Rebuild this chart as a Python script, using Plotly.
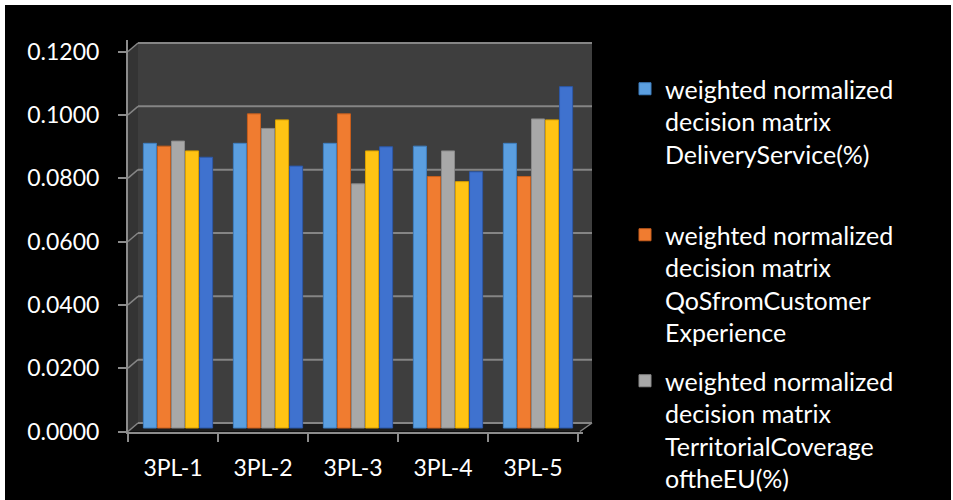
import plotly.graph_objects as go

# ---- data -------------------------------------------------------------
categories = ["3PL-1", "3PL-2", "3PL-3", "3PL-4", "3PL-5"]

series_names = [
    "weighted normalized<br>decision matrix<br>DeliveryService(%)",
    "weighted normalized<br>decision matrix<br>QoSfromCustomer<br>Experience",
    "weighted normalized<br>decision matrix<br>TerritorialCoverage<br>oftheEU(%)",
    "weighted normalized<br>decision matrix<br>Criterion 4",
    "weighted normalized<br>decision matrix<br>Criterion 5",
]

delivery_service = [0.0899, 0.0899, 0.0899, 0.0890, 0.0899]
qos_customer = [0.0890, 0.0992, 0.0992, 0.0794, 0.0794]
territorial_cov = [0.0906, 0.0946, 0.0771, 0.0875, 0.0976]
criterion_4 = [0.0875, 0.0973, 0.0875, 0.0778, 0.0973]
criterion_5 = [0.0855, 0.0827, 0.0888, 0.0809, 0.1078]

values = [delivery_service, qos_customer, territorial_cov, criterion_4, criterion_5]
colors = ["#5B9FE0", "#F07C30", "#A8A8A8", "#FFC414", "#3F72CF"]
edge_colors = ["#3F7FC0", "#C85E1C", "#8A8A8A", "#D9A000", "#2C58A8"]
legend_ids = ["legend", "legend2", "legend3", None, None]

y_ticks = [0.0, 0.02, 0.04, 0.06, 0.08, 0.10, 0.12]
y_tick_text = ["0.0000", "0.0200", "0.0400", "0.0600", "0.0800", "0.1000", "0.1200"]

# ---- layout geometry (pixels) -----------------------------------------
W, H = 953, 500
L, R, T, B = 128, 583, 40, 432          # front plotting frame
PPU = 380 / 0.12                        # pixels per value unit
BAR_BASE = 428                          # bars stand a little behind the front edge
FRONT_ZERO = 431.5
DX, DY = 10, 8.5                        # depth offset of the back wall


def px(xp):
    return (xp - L) / (R - L)


def py(yp):
    return (B - yp) / (B - T)


FONT = "Lato"

fig = go.Figure()
for name, vals, col, edge, leg in zip(series_names, values, colors,
                                      edge_colors, legend_ids):
    fig.add_trace(go.Bar(
        x=categories, y=vals, name=name, marker_color=col,
        marker_line=dict(color=edge, width=1),
        showlegend=leg is not None, legend=leg or "legend",
        xaxis="x", yaxis="y",
    ))

# empty trace so the front (label) axes get their own subplot
fig.add_trace(go.Scatter(x=[], y=[], xaxis="x2", yaxis="y2",
                         showlegend=False, hoverinfo="skip"))

shapes = []
# black card with a thin white frame around it
shapes.append(dict(type="rect", xref="paper", yref="paper", layer="below",
                   x0=px(5), x1=px(951), y0=py(5), y1=py(H + 2),
                   fillcolor="black", line_width=0))
# back wall
back_top = FRONT_ZERO - DY - 0.12 * PPU
back_bot = FRONT_ZERO - DY
shapes.append(dict(type="rect", xref="paper", yref="paper", layer="below",
                   x0=px(L + DX), x1=px(592), y0=py(back_bot), y1=py(back_top),
                   fillcolor="#3E3E3E", line_width=0))
# left side wall
shapes.append(dict(type="path", xref="paper", yref="paper", layer="below",
                   path=(f"M{px(L)},{py(FRONT_ZERO - 0.12 * PPU)} "
                         f"L{px(L + DX)},{py(back_top)} L{px(L + DX)},{py(back_bot)} "
                         f"L{px(L)},{py(FRONT_ZERO)} Z"),
                   fillcolor="#343434", line_width=0))
# floor
shapes.append(dict(type="path", xref="paper", yref="paper", layer="below",
                   path=(f"M{px(L)},{py(FRONT_ZERO)} L{px(L + DX)},{py(back_bot)} "
                         f"L{px(592)},{py(back_bot)} L{px(580)},{py(FRONT_ZERO)} Z"),
                   fillcolor="#1C1C1C", line_width=0))
# gridlines on the back wall and their slanted continuation on the side wall
up_back = BAR_BASE - (FRONT_ZERO - DY)
down_front = FRONT_ZERO - BAR_BASE
for v in y_ticks:
    shapes.append(dict(type="line", xref="paper", yref="y", layer="below",
                       ysizemode="pixel", yanchor=v, y0=up_back, y1=up_back,
                       x0=px(L + DX), x1=px(592),
                       line=dict(color="#858585", width=2)))
    shapes.append(dict(type="line", xref="paper", yref="y", layer="below",
                       ysizemode="pixel", yanchor=v, y0=-down_front, y1=up_back,
                       x0=px(L), x1=px(L + DX),
                       line=dict(color="#858585", width=1.5)))
# floor edge toward the back right corner
shapes.append(dict(type="line", xref="paper", yref="paper", layer="below",
                   x0=px(580), y0=py(FRONT_ZERO), x1=px(592), y1=py(back_bot),
                   line=dict(color="#858585", width=1.5)))

# value ranges so that the bar axis and the front label axis line up
y_range = [-(B - BAR_BASE) / PPU, (BAR_BASE - T) / PPU]
y2_range = [-(B - FRONT_ZERO) / PPU, (FRONT_ZERO - T) / PPU]
x_range = [-50 / 90, -50 / 90 + (R - L) / 90]
x2_range = [-45 / 90, -45 / 90 + (R - L) / 90]


def legend_box(top_px):
    return dict(x=px(625), y=py(top_px), xanchor="left", yanchor="top",
                bgcolor="rgba(0,0,0,0)", borderwidth=0,
                font=dict(family=FONT, color="white", size=25),
                valign="top")


fig.update_layout(
    width=W, height=H,
    margin=dict(l=L, r=W - R, t=T, b=H - B, pad=0, autoexpand=False),
    paper_bgcolor="white",
    plot_bgcolor="rgba(0,0,0,0)",
    font=dict(family=FONT, color="white", size=23),
    barmode="group", bargap=0.22, bargroupgap=0.07,
    shapes=shapes,
    xaxis=dict(range=x_range, showticklabels=False, showgrid=False,
               zeroline=False, showline=False, ticks=""),
    yaxis=dict(range=y_range, showticklabels=False, showgrid=False,
               zeroline=False, showline=False, ticks=""),
    xaxis2=dict(overlaying="x", anchor="y2", side="bottom", range=x2_range,
                tickmode="array", tickvals=list(range(len(categories))),
                ticktext=categories, ticks="", showgrid=False, zeroline=False,
                showline=True, linecolor="#8C8C8C", linewidth=2,
                minor=dict(tickmode="array",
                           tickvals=[i - 0.5 for i in range(len(categories) + 1)],
                           ticks="outside", ticklen=8, tickcolor="#8C8C8C",
                           tickwidth=2, showgrid=False),
                ticklabelstandoff=14,
                tickfont=dict(family=FONT, color="white", size=23)),
    yaxis2=dict(overlaying="y", anchor="x2", side="left", range=y2_range,
                tickmode="array", tickvals=y_ticks, ticktext=y_tick_text,
                ticks="outside", ticklen=8, tickcolor="#8C8C8C", tickwidth=2,
                showline=True, linecolor="#8C8C8C", linewidth=2,
                showgrid=False, zeroline=False, ticklabelstandoff=14,
                tickfont=dict(family=FONT, color="white", size=23)),
    legend=legend_box(66),
    legend2=legend_box(66 + 146),
    legend3=legend_box(66 + 292),
)

fig.write_html("out.html")
